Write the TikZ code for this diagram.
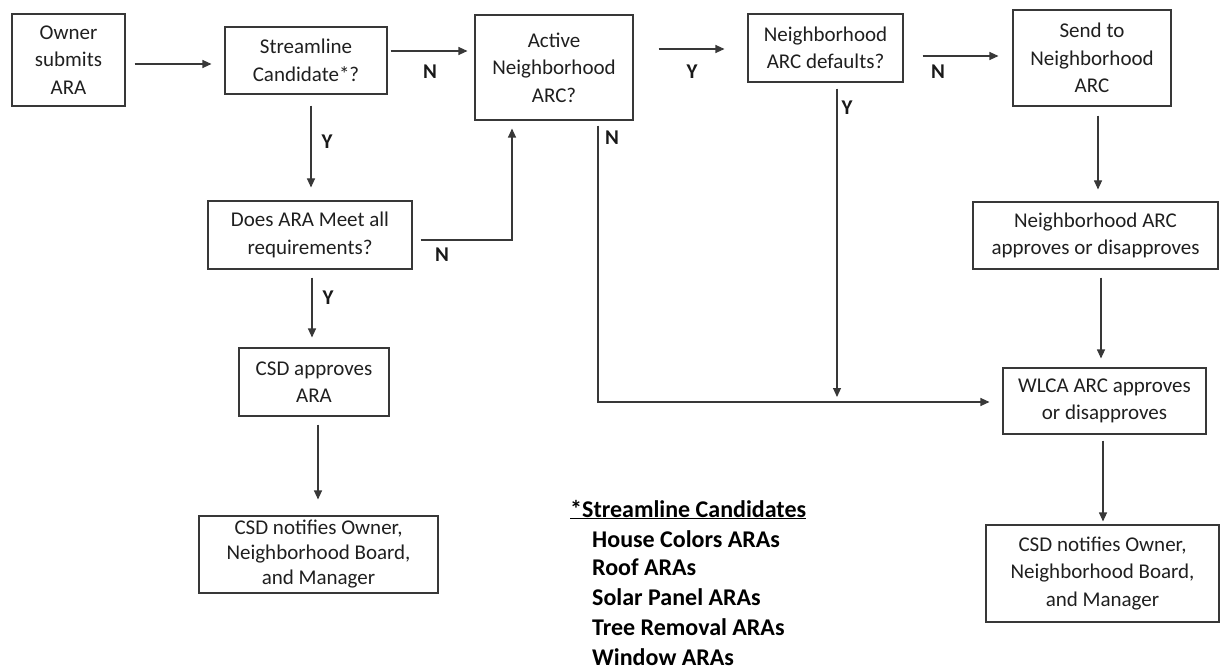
\documentclass[tikz,border=0pt]{standalone}
\usepackage{fontspec}
\setmainfont{Carlito}
\usetikzlibrary{arrows.meta}
\begin{document}
\begin{tikzpicture}[x=1pt,y=-1pt,
  box/.style={draw=black!78, line width=1.1pt, inner sep=2pt, align=center,
    font=\fontsize{21}{27.5}\selectfont, text=black!88},
  tightbox/.style={box, font=\fontsize{21}{25}\selectfont},
  arr/.style={draw=black!78, line width=1.1pt, -{Triangle[length=9pt,width=8pt]}},
  lab/.style={font=\fontsize{21}{24}\selectfont\bfseries, text=black!90, inner sep=0pt},
  cand/.style={anchor=base west, font=\fontsize{24}{28}\selectfont\bfseries, text=black, inner sep=0pt}]
\useasboundingbox (0,0) rectangle (1220,671);

% process boxes
\node[box, minimum width=113pt, minimum height=92pt]  (a) at (68.5,60)   {Owner\\submits\\ARA};
\node[box, minimum width=162pt, minimum height=67pt]  (b) at (306,60.5)  {Streamline\\Candidate*?};
\node[box, minimum width=158pt, minimum height=105pt] (c) at (554,67.5)  {Active\\Neighborhood\\ARC?};
\node[box, minimum width=155pt, minimum height=68pt]  (d) at (825.5,48)  {Neighborhood\\ARC defaults?};
\node[box, minimum width=158pt, minimum height=96pt]  (e) at (1092,58)   {Send to\\Neighborhood\\ARC};
\node[box, minimum width=204pt, minimum height=68pt]  (f) at (310,235)   {Does ARA Meet all\\requirements?};
\node[box, minimum width=150pt, minimum height=68pt]  (g) at (314,382)   {CSD approves\\ARA};
\node[tightbox, minimum width=239pt, minimum height=77pt] (h) at (318.5,554.5) {CSD notifies Owner,\\Neighborhood Board,\\and Manager};
\node[box, minimum width=245pt, minimum height=67pt]  (i) at (1095.5,235.5) {Neighborhood ARC\\approves or disapproves};
\node[box, minimum width=203pt, minimum height=66pt]  (j) at (1104.5,401) {WLCA ARC approves\\or disapproves};
\node[box, minimum width=233pt, minimum height=97pt]  (k) at (1102.5,573.5) {CSD notifies Owner,\\Neighborhood Board,\\and Manager};

% junction where the "Y" branch meets the "N" line
\coordinate (m) at (837,402);

% connectors
\draw[arr, shorten <=9pt, shorten >=13pt] (a.east |- 0,64) -- (b.west |- 0,64);
\draw[arr, shorten <=3pt, shorten >=7pt]  (b.east |- 0,51) -- (c.west |- 0,51);
\draw[arr, shorten <=25pt, shorten >=23pt] (c.east |- 0,49) -- (d.west |- 0,49);
\draw[arr, shorten <=19pt, shorten >=14pt] (d.east |- 0,56) -- (e.west |- 0,56);
\draw[arr, shorten <=11pt, shorten >=13pt] (b.south -| 311,0) -- (f.north -| 311,0);
\draw[arr, shorten <=8pt, shorten >=10pt]  (f.south -| 312,0) -- (g.north -| 312,0);
\draw[arr, shorten <=8pt, shorten >=16pt]  (g.south -| 318,0) -- (h.north -| 318,0);
\draw[arr, shorten <=8pt, shorten >=8pt]   (f.east |- 0,240) -| (c.south -| 512,0);
\draw[arr, shorten <=5pt, shorten >=13pt]  (c.south -| 598,0) |- (j.west |- m);
\draw[arr, shorten <=6pt, shorten >=5pt]   (d.south -| m) -- (m);
\draw[arr, shorten <=9pt, shorten >=12pt]  (e.south -| 1098,0) -- (i.north -| 1098,0);
\draw[arr, shorten <=8pt, shorten >=9pt]   (i.south -| 1101,0) -- (j.north -| 1101,0);
\draw[arr, shorten <=6pt, shorten >=3pt]   (j.south -| 1103,0) -- (k.north -| 1103,0);

% branch labels
\node[lab] (l1) at (430,72)  {N};
\node[lab] (l2) at (692,72)  {Y};
\node[lab] (l3) at (938,72)  {N};
\node[lab] (l4) at (327,142) {Y};
\node[lab] (l5) at (328,298) {Y};
\node[lab] (l6) at (442,255) {N};
\node[lab] (l7) at (612,138) {N};
\node[lab] (l8) at (847,108) {Y};

% list of streamline candidates
\node[cand] (t0) at (570,517) {\underline{*Streamline Candidates}};
\node[cand] (t1) at (592,547) {House Colors ARAs};
\node[cand] (t2) at (592,575.5) {Roof ARAs};
\node[cand] (t3) at (592,605) {Solar Panel ARAs};
\node[cand] (t4) at (592,635) {Tree Removal ARAs};
\node[cand] (t5) at (592,665) {Window ARAs};
\end{tikzpicture}
\end{document}
